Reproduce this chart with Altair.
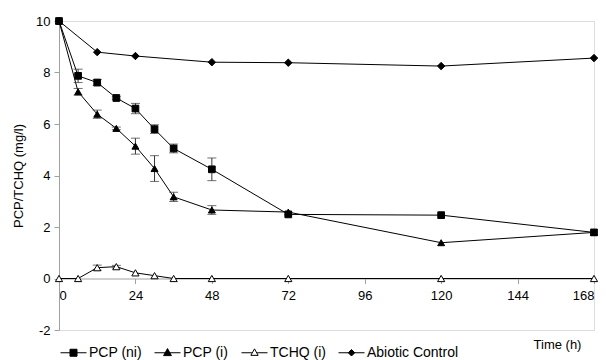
import altair as alt
import pandas as pd

# ---- data ----
series_names = ["PCP (ni)", "PCP (i)", "TCHQ (i)", "Abiotic Control"]
times = [0, 6, 12, 18, 24, 30, 36, 48, 72, 120, 168]
abiotic_times = [0, 12, 24, 48, 72, 120, 168]

pcp_ni = [10.0, 7.87, 7.61, 7.01, 6.60, 5.80, 5.05, 4.24, 2.49, 2.46, 1.79]
pcp_ni_err = [0, 0.26, 0.12, 0.05, 0.20, 0.17, 0.17, 0.44, 0, 0, 0]
pcp_i = [10.0, 7.25, 6.38, 5.83, 5.14, 4.27, 3.17, 2.66, 2.58, 1.39, 1.79]
pcp_i_err = [0, 0.13, 0.16, 0.05, 0.31, 0.50, 0.18, 0.17, 0, 0, 0]
tchq = [0, 0, 0.42, 0.46, 0.22, 0.11, 0, 0, 0, 0, 0]
tchq_err = [0, 0, 0.10, 0.05, 0, 0, 0, 0, 0, 0, 0]
abiotic = [10.0, 8.79, 8.64, 8.40, 8.38, 8.25, 8.56]
abiotic_err = [0, 0, 0, 0, 0, 0, 0]

x_ticks = [0, 24, 48, 72, 96, 120, 144, 168]
y_ticks = [-2, 0, 2, 4, 6, 8, 10]

rows = []
for name, ts, vals, errs in [
    (series_names[0], times, pcp_ni, pcp_ni_err),
    (series_names[1], times, pcp_i, pcp_i_err),
    (series_names[2], times, tchq, tchq_err),
    (series_names[3], abiotic_times, abiotic, abiotic_err),
]:
    for t, v, e in zip(ts, vals, errs):
        rows.append({"series": name, "t": t, "v": v, "lo": v - e, "hi": v + e, "err": e})
df = pd.DataFrame(rows)

FONT = "Liberation Sans"
W, H = 535, 309

x = alt.X("t:Q", scale=alt.Scale(domain=[0, 168], nice=False, zero=False),
          axis=alt.Axis(values=x_ticks, title="Time (h)", grid=False,
                        offset=-H * 2 / 12, domainColor="#a0a0a0", tickColor="#a0a0a0",
                        tickSize=5, labelPadding=6, labelFontSize=13, labelFont=FONT,
                        labelColor="black", titleFont=FONT, titleFontSize=13,
                        titleFontWeight="normal", titleX=498, titleY=66,
                        titleAlign="center", titleBaseline="middle", titleColor="black"))
y = alt.Y("v:Q", scale=alt.Scale(domain=[-2, 10], nice=False, zero=False),
          axis=alt.Axis(values=y_ticks, title="PCP/TCHQ (mg/l)", grid=False,
                        labelExpr="'' + datum.value",
                        domainColor="#a0a0a0", tickColor="#a0a0a0", tickSize=5,
                        labelPadding=4, labelFontSize=13, labelFont=FONT, labelColor="black",
                        titleFont=FONT, titleFontSize=13, titleFontWeight="normal",
                        titleX=-41, titleY=H / 2, titleAngle=-90, titleAlign="center",
                        titleBaseline="middle", titleColor="black"))

base = alt.Chart(df)

lines = base.mark_line(color="black", strokeWidth=1).encode(
    x=x, y=y, detail="series:N", order="t:Q")

err_df = base.transform_filter("datum.err > 0")
err_rules = err_df.mark_rule(color="#333", strokeWidth=1).encode(
    x="t:Q", y="lo:Q", y2="hi:Q")
err_lo = err_df.mark_tick(color="#333", thickness=1, size=9, orient="horizontal").encode(
    x="t:Q", y="lo:Q")
err_hi = err_df.mark_tick(color="#333", thickness=1, size=9, orient="horizontal").encode(
    x="t:Q", y="hi:Q")

points = base.mark_point(stroke="black", strokeWidth=1, opacity=1).encode(
    x="t:Q", y="v:Q",
    shape=alt.Shape("series:N", legend=None,
                    scale=alt.Scale(domain=series_names,
                                    range=["square", "triangle-up", "triangle-up", "diamond"])),
    fill=alt.Fill("series:N", legend=None,
                  scale=alt.Scale(domain=series_names,
                                  range=["black", "black", "white", "black"])),
    size=alt.Size("series:N", legend=None,
                  scale=alt.Scale(domain=series_names, range=[45, 55, 45, 35])),
)

legend_paths = [
    "M-1 0H1M-0.27 -0.27H0.27V0.27H-0.27Z",
    "M-1 0H1M0 -0.32L0.3 0.22H-0.3Z",
    "M-1 0H-0.2M0.2 0H1M0 -0.3L0.28 0.2H-0.28Z",
    "M-1 0H1M0 -0.25L0.25 0L0 0.25L-0.25 0Z",
]
leg = alt.Legend(title=None, orient="none", legendX=1, legendY=318, direction="horizontal",
                 columns=4, columnPadding=10, labelFontSize=14, labelFont=FONT,
                 labelColor="black", labelOffset=2, symbolSize=676, symbolStrokeWidth=1,
                 symbolStrokeColor="black", padding=0)
legend_layer = base.transform_filter("false").mark_point(strokeWidth=1, opacity=1).encode(
    shape=alt.Shape("series:N", legend=leg,
                    scale=alt.Scale(domain=series_names, range=legend_paths)),
    fill=alt.Fill("series:N", legend=leg,
                  scale=alt.Scale(domain=series_names,
                                  range=["black", "black", "white", "black"])),
    stroke=alt.Stroke("series:N", legend=leg,
                      scale=alt.Scale(domain=series_names,
                                      range=["black", "black", "black", "black"])),
)

chart = alt.layer(lines, err_rules, err_lo, err_hi, points, legend_layer).resolve_scale(
    shape="independent", fill="independent", size="independent", stroke="independent"
).properties(
    width=W, height=H,
    autosize=alt.AutoSizeParams(type="none"),
    padding={"left": 51, "top": 13, "right": 4, "bottom": 30},
).configure_view(stroke=None).configure(background="white")

chart.save("out.html", embed_options={"renderer": "svg", "actions": False})
